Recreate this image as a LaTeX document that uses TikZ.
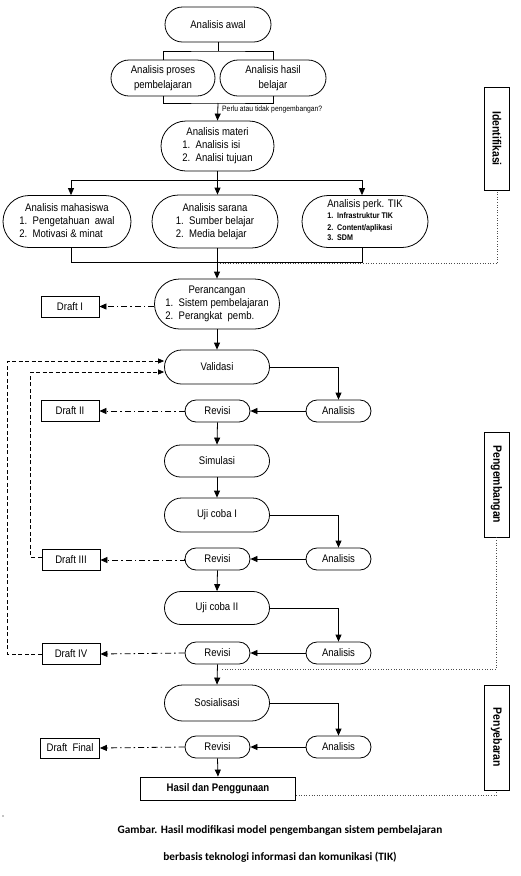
\documentclass[tikz,border=0pt]{standalone}
\usepackage{fontspec}
\setmainfont[FakeStretch=0.87]{Liberation Sans}
\newfontfamily\capfont{Carlito}
\usetikzlibrary{arrows.meta,shapes.misc}
\newcommand{\plist}[3]{\begin{tabular}{@{}l@{}}\multicolumn{1}{@{}c@{}}{#1}\\#2\\#3\end{tabular}}
\begin{document}
\begin{tikzpicture}[x=1pt,y=-1pt,
  every node/.style={font=\fontsize{11}{13}\selectfont, inner sep=0pt},
  pill/.style={draw, rounded rectangle, line width=0.8pt},
  box/.style={draw, rectangle, line width=0.8pt},
  ln/.style={line width=0.8pt},
  arr/.style={ln, -{Triangle[length=7pt,width=6pt]}},
  dd/.style={ln, dash pattern=on 6pt off 3pt on 1.5pt off 3pt, -{Triangle[length=7pt,width=6pt]}},
  fb/.style={line width=0.7pt, dash pattern=on 4pt off 2.5pt, -{Triangle[length=6pt,width=5pt]}},
  dotl/.style={line width=0.6pt, dotted, black!70},
  side/.style={draw, rectangle, line width=0.8pt, rotate=-90, minimum width=104pt, minimum height=25pt, font=\fontsize{12}{13}\selectfont\bfseries},
  wide/.style={minimum width=105pt},
  small/.style={minimum width=65pt, minimum height=22pt},
  draft/.style={box, minimum width=58pt, minimum height=21pt},
]
\useasboundingbox (0,0) rectangle (520,876);

% identification phase
\node[pill, minimum width=106pt, minimum height=35pt] (awal) at (218,24.5) {Analisis awal};
\node[pill, minimum width=104pt, minimum height=36pt, align=center, font=\fontsize{11}{15}\selectfont] (proses) at (163,78) {Analisis proses\\pembelajaran};
\node[pill, minimum width=106pt, minimum height=36pt, align=center, font=\fontsize{11}{15}\selectfont] (hasil) at (273,78) {Analisis hasil\\belajar};
\node[pill, minimum width=113pt, minimum height=50pt] (materi) at (217.5,146) {\plist{Analisis materi}{1.~~Analisis isi}{2.~~Analisi tujuan}};
\node[pill, minimum width=128pt, minimum height=52pt] (mhs) at (67,221.5) {\plist{Analisis mahasiswa}{1.~~Pengetahuan~~awal}{2.~~Motivasi \& minat}};
\node[pill, minimum width=126pt, minimum height=53pt] (sarana) at (215,221.5) {\plist{Analisis sarana}{1.~~Sumber belajar}{2.~~Media belajar}};
\node[pill, minimum width=126pt, minimum height=52pt, font=\fontsize{8.2}{11.5}\selectfont\bfseries] (tik) at (365,221.5) {\begin{tabular}{@{}l@{}}\multicolumn{1}{@{}c@{}}{\fontsize{11}{13}\selectfont\mdseries Analisis perk. TIK}\\1.~~Infrastruktur TIK\\2.~~Content/aplikasi\\[-1pt]3.~~SDM\end{tabular}};

% design / development
\node[pill, minimum width=125pt, minimum height=50pt] (peran) at (217,304) {\plist{Perancangan}{1.~~Sistem pembelajaran}{2.~~Perangkat~~pemb.}};
\node[draft] (d1) at (70,306.5) {Draft I};
\node[pill, wide, minimum height=34pt] (valid) at (217,367) {Validasi};
\node[pill, small] (ana1) at (338.5,411) {Analisis};
\node[pill, small] (rev1) at (217.5,411) {Revisi};
\node[draft] (d2) at (70,411) {Draft II};
\node[pill, wide, minimum height=32pt] (sim) at (217,461) {Simulasi};
\node[pill, wide, minimum height=34pt] (uji1) at (217,515) {Uji coba I};
\node[pill, small] (ana2) at (338.5,559) {Analisis};
\node[pill, small] (rev2) at (217.5,559) {Revisi};
\node[draft] (d3) at (71,560) {Draft III};
\node[pill, wide, minimum height=33pt] (uji2) at (217,608) {Uji coba II};
\node[pill, small] (ana3) at (338.5,653) {Analisis};
\node[pill, small] (rev3) at (217.5,653) {Revisi};
\node[draft] (d4) at (71,654) {Draft IV};

% dissemination
\node[pill, wide, minimum height=36pt] (sos) at (217,703) {Sosialisasi};
\node[pill, small] (ana4) at (338.5,747) {Analisis};
\node[pill, small] (rev4) at (217.5,747) {Revisi};
\node[draft, minimum width=59pt, minimum height=20pt] (dF) at (70,748) {Draft~~Final};
\node[box, minimum width=155pt, minimum height=23pt, font=\fontsize{11}{12}\selectfont\bfseries] (hasilp) at (218,788.5) {Hasil dan Penggunaan};

% phase labels
\node[side, minimum width=103pt] (ident) at (497,138.5) {Identifikasi};
\node[side, minimum width=105pt] (peng) at (496.5,484.5) {Pengembangan};
\node[side, minimum width=105pt] (peny) at (496.5,737.5) {Penyebaran};

% connectors: identification
\coordinate (j1) at (218,51);
\draw[ln] (proses.north) |- (j1) -| (hasil.north);
\draw[ln] (awal.south) -- (j1);
\coordinate (j2) at (218,103);
\draw[ln] (proses.south) |- (j2) -| (hasil.south);
\draw[arr] (j2) -- (materi.north);
\node[anchor=west, font=\fontsize{7.8}{8}\selectfont] (q) at (222,109) {Perlu atau tidak pengembangan?};
\coordinate (j3) at (217.5,180);
\draw[ln] (materi.south) -- (j3);
\draw[arr] (j3) -| ([xshift=4pt]mhs.north);
\draw[arr] (j3) -- (sarana.north -| j3);
\draw[arr] (j3) -| ([xshift=-3pt]tik.north);
\coordinate (j4) at (217,262.5);
\draw[ln] ([xshift=4pt]mhs.south) |- (j4) -| ([xshift=-3pt]tik.south);
\draw[ln] (sarana.south -| j4) -- (j4);
\draw[arr] (j4) -- (peran.north);
\coordinate (o1) at (220,263.5);
\draw[dotl] (o1) -| (ident.east);

% connectors: development
\draw[dd] (peran.west |- d1.east) -- (d1.east);
\draw[arr] (peran.south) -- (valid.north);
\draw[arr] (valid.east) -| (ana1.north);
\draw[arr] (ana1.west) -- (rev1.east);
\draw[dd] (rev1.west) -- (d2.east);
\draw[arr] (rev1.south) -- (sim.north);
\draw[arr] (sim.south) -- (uji1.north);
\draw[arr] (uji1.east) -| (ana2.north);
\draw[arr] (ana2.west) -- (rev2.east);
\draw[dd] (rev2.west) -- (d3.east -| rev2.west) -- (d3.east);
\draw[arr] (rev2.south) -- (uji2.north);
\draw[arr] (uji2.east) -| (ana3.north);
\draw[arr] (ana3.west) -- (rev3.east);
\draw[dd] (rev3.west) -- (d4.east);
\draw[arr] (rev3.south) -- (sos.north);
\draw[fb] ([yshift=3pt]d3.west) -- ++(-11,0) |- ([yshift=-5pt]valid.west);
\draw[fb] (d4.west) -- ++(-34,0) |- ([yshift=6pt]valid.west);
\coordinate (o2) at (220,669);
\draw[dotl] (peng.east) |- (o2);

% connectors: dissemination
\draw[arr] (sos.east) -| (ana4.north);
\draw[arr] (ana4.west) -- (rev4.east);
\draw[dd] (rev4.west) -- (dF.east);
\draw[arr] (rev4.south) -- (hasilp.north);
\draw[dotl] ([yshift=-6.5pt]hasilp.east) -| (peny.east);

% stray mark and caption
\fill (3,816) circle (0.6pt);
\node[font={\capfont\fontsize{11.3}{13}\selectfont\bfseries}] (cap1) at (280,830) {Gambar. Hasil modifikasi model pengembangan sistem pembelajaran};
\node[font={\capfont\fontsize{11.3}{13}\selectfont\bfseries}] (cap2) at (280,857) {berbasis teknologi informasi dan komunikasi (TIK)};
\end{tikzpicture}
\end{document}
